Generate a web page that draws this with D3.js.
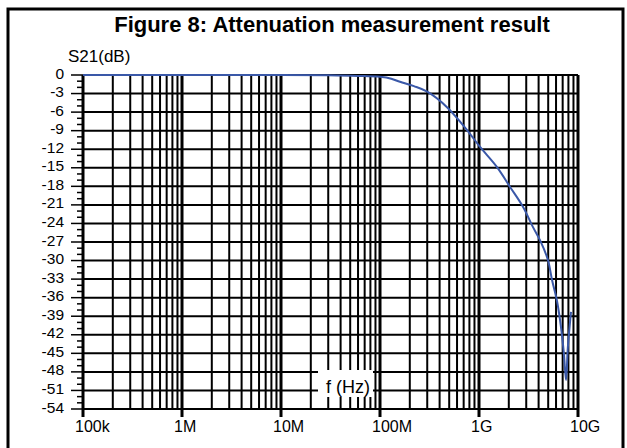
<!DOCTYPE html>
<html><head><meta charset="utf-8">
<script src="https://cdn.jsdelivr.net/npm/d3@7"></script>
<style>body{margin:0;background:#fff}svg{display:block}text{font-family:Arial,"Liberation Sans",sans-serif;fill:#000}</style>
</head><body><svg id="c" width="627" height="448"></svg>
<script>
// Measured S21 attenuation curve
const freqHz = [1e5, 1e6, 1e7, 3e7, 6e7, 1e8, 1.3e8, 1.59e8, 2.2e8, 3e8, 4.75e8, 7.57e8, 1.02e9, 1.52e9, 2.06e9, 2.78e9, 3.51e9, 4.13e9, 4.97e9, 5.46e9, 6.13e9, 6.7e9, 7.2e9, 7.57e9, 7.9e9, 8.5e9];
const s21dB  = [0, 0, 0, -0.05, -0.15, -0.3, -0.6, -1.1, -1.8, -2.7, -5.2, -8.9, -11.6, -14.9, -18.1, -21.3, -24.6, -26.7, -29.9, -33.1, -36.5, -40.5, -45.0, -49.3, -44.0, -38.3];
const yTickValues = [0, -3, -6, -9, -12, -15, -18, -21, -24, -27, -30, -33, -36, -39, -42, -45, -48, -51, -54];
const xTickValues = [1e5, 1e6, 1e7, 1e8, 1e9, 1e10];
const xTickLabels = ["100k", "1M", "10M", "100M", "1G", "10G"];
const titleText = "Figure 8: Attenuation measurement result";
const yTitle = "S21(dB)";
const xTitle = "f (Hz)";

const svg = d3.select("#c");
const x = d3.scaleLog().domain([1e5, 1e10]).range([83, 578]);
const y = d3.scaleLinear().domain([0, -54]).range([75, 409]);

// frame
svg.append("path").attr("d", "M8,448V9H623V448").attr("fill", "none").attr("stroke", "#000").attr("stroke-width", 3);

// title
svg.append("text").attr("x", 332).attr("y", 32).attr("text-anchor", "middle")
  .style("font-size", "22px").style("font-weight", "bold").text(titleText);

const g = svg.append("g");
// horizontal grid
g.selectAll("line.h").data(yTickValues).join("line")
  .attr("x1", x.range()[0]).attr("x2", x.range()[1])
  .attr("y1", d => y(d)).attr("y2", d => y(d))
  .attr("stroke", "#000").attr("stroke-width", 2);
// vertical grid
const vt = x.ticks();
g.selectAll("line.v").data(vt).join("line")
  .attr("x1", d => x(d)).attr("x2", d => x(d))
  .attr("y1", y(0))
  .attr("y2", d => xTickValues.some(v => Math.abs(v - d) / v < 1e-6) ? y(-54) + 8 : y(-54))
  .attr("stroke", "#000")
  .attr("stroke-width", d => xTickValues.some(v => Math.abs(v - d) / v < 1e-6) ? 3 : 2);

// y ticks (minor every 1 dB, major every 3 dB)
const minor = y.ticks(54);
g.selectAll("line.yt").data(minor).join("line")
  .attr("x1", d => yTickValues.includes(d) ? 71 : 77).attr("x2", 83)
  .attr("y1", d => y(d)).attr("y2", d => y(d))
  .attr("stroke", "#000").attr("stroke-width", 1.5);

// y labels
g.selectAll("text.yl").data(yTickValues).join("text")
  .attr("x", 64).attr("y", d => y(d) + 3.5).attr("text-anchor", "end")
  .style("font-size", "15.5px").text(d => d === 0 ? "0" : String(d));

// x labels
g.selectAll("text.xl").data(xTickValues).join("text")
  .attr("x", d => x(d) - 8).attr("y", 432)
  .style("font-size", "16px").text((d, i) => xTickLabels[i]);

// y title
svg.append("text").attr("x", 68).attr("y", 62).style("font-size", "17px").text(yTitle);

// x title with white box
svg.append("rect").attr("x", 318).attr("y", 370).attr("width", 55).attr("height", 27).attr("fill", "#fff");
svg.append("text").attr("x", 326).attr("y", 393).style("font-size", "18px").text(xTitle);

// curve
const line = d3.line().x((d, i) => x(freqHz[i])).y((d, i) => y(s21dB[i])).curve(d3.curveMonotoneX);
svg.append("path").datum(s21dB).attr("d", d3.line().x((d, i) => x(freqHz[i])).y(d => y(d)).curve(d3.curveCatmullRom.alpha(0.5)))
  .attr("fill", "none").attr("stroke", "#3a58a8").attr("stroke-width", 2);
</script></body></html>
